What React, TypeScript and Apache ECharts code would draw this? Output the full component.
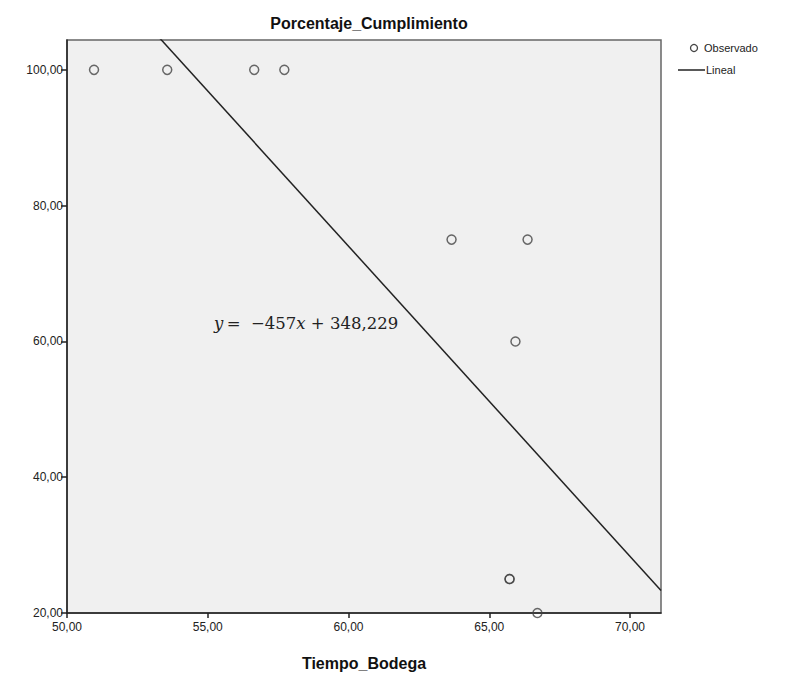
import React, { useEffect, useRef } from "react";
import * as echarts from "echarts";

const tiempoBodega = [50.96, 53.56, 56.65, 57.72, 63.66, 66.36, 65.93, 65.72, 65.72, 66.71];
const porcentajeCumplimiento = [100, 100, 100, 100, 75, 75, 60, 25, 25, 20];
const fitSlope = -4.57;
const fitIntercept = 348.229;
const fitXRange = [50, 71.1];
const xTicks = [50, 55, 60, 65, 70];
const yTicks = [20, 40, 60, 80, 100];

const fmt = (v: number) => v.toFixed(2).replace(".", ",");
const narrow = "'Liberation Sans Narrow', 'Liberation Sans', Arial, sans-serif";

export default function App() {
  const ref = useRef<HTMLDivElement>(null);
  useEffect(() => {
    document.body.style.margin = "0";
    const chart = echarts.init(ref.current!, undefined, { renderer: "svg" });
    const scatterData = tiempoBodega.map((x, i) => [x, porcentajeCumplimiento[i]]);
    const lineData = fitXRange.map((x) => [x, fitSlope * x + fitIntercept]);
    chart.setOption({
      animation: false,
      backgroundColor: "#ffffff",
      title: {
        text: "Porcentaje_Cumplimiento",
        left: 364,
        top: 10,
        textAlign: "center",
        textStyle: { fontFamily: "'Liberation Sans', Arial, sans-serif", fontSize: 16, fontWeight: "bold", color: "#111" },
      },
      grid: {
        left: 67,
        right: 126,
        top: 40,
        bottom: 66,
        show: true,
        backgroundColor: "#f0f0f0",
        borderColor: "#666",
        borderWidth: 1.5,
      },
      xAxis: {
        type: "value",
        min: 50,
        max: 71.1,
        interval: 5,
        name: "Tiempo_Bodega",
        nameLocation: "middle",
        nameGap: 42,
        nameTextStyle: { fontFamily: "'Liberation Sans', Arial, sans-serif", fontSize: 16, fontWeight: "bold", color: "#111" },
        splitLine: { show: false },
        axisLine: { show: true, onZero: false, lineStyle: { color: "#222", width: 1.5 } },
        axisTick: { show: true, length: 5, customValues: xTicks, lineStyle: { color: "#222", width: 1.5 } },
        axisLabel: {
          fontFamily: narrow,
          fontSize: 12,
          color: "#222",
          margin: 8,
          customValues: xTicks,
          formatter: (v: number) => fmt(v),
        },
      },
      yAxis: {
        type: "value",
        min: 20,
        max: 104.4,
        interval: 20,
        splitLine: { show: false },
        axisLine: { show: true, onZero: false, lineStyle: { color: "#222", width: 1.5 } },
        axisTick: { show: true, length: 6, customValues: yTicks, lineStyle: { color: "#222", width: 1.5 } },
        axisLabel: {
          fontFamily: narrow,
          fontSize: 12,
          color: "#222",
          margin: 4,
          customValues: yTicks,
          formatter: (v: number) => fmt(v),
        },
      },
      series: [
        {
          type: "line",
          data: lineData,
          clip: true,
          showSymbol: false,
          symbol: "none",
          lineStyle: { color: "#222", width: 1.5 },
          z: 2,
        },
        {
          type: "scatter",
          data: scatterData,
          clip: false,
          symbol: "circle",
          symbolSize: 9,
          itemStyle: { color: "transparent", borderColor: "#444", borderWidth: 1.5 },
          z: 3,
        },
      ],
      graphic: [
        {
          type: "text",
          left: 214,
          top: 315,
          style: {
            text: "{i|y} {r|=  −457}{i|x}{r| + 348,229}",
            rich: {
              i: { fontFamily: "'DejaVu Serif', serif", fontStyle: "italic", fontSize: 16.5, fill: "#222" },
              r: { fontFamily: "'DejaVu Serif', serif", fontSize: 16.5, fill: "#222" },
            },
          },
        },
        { type: "circle", shape: { cx: 694, cy: 48, r: 3.5 }, style: { fill: "transparent", stroke: "#444", lineWidth: 1.3 } },
        { type: "text", left: 704, top: 42, style: { text: "Observado", font: `11px ${narrow}`, fill: "#222" } },
        { type: "line", shape: { x1: 678, y1: 70, x2: 705, y2: 70 }, style: { stroke: "#222", lineWidth: 1.5 } },
        { type: "text", left: 706, top: 64, style: { text: "Lineal", font: `11px ${narrow}`, fill: "#222" } },
      ],
    });
    return () => chart.dispose();
  }, []);
  return <div ref={ref} style={{ width: 787, height: 679 }} />;
}
